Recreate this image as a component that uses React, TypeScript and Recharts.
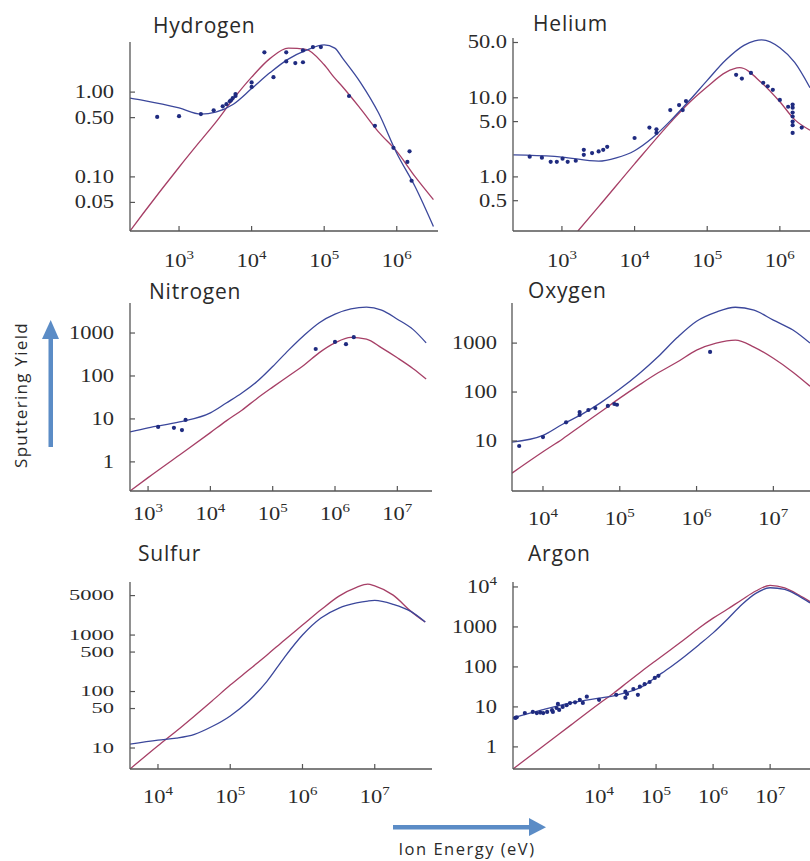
import React from 'react'
import { ComposedChart, Line, Scatter, XAxis, YAxis } from 'recharts'

// Hydrogen
const hCurveE = [211, 320, 1000, 2000, 3200, 5600, 1e4, 1.8e4, 3.2e4, 5.6e4, 1e5, 1.4e5, 1.8e5, 3.2e5, 5.6e5, 1e6, 1.8e6, 3.2e6]
const hBlue = [0.85, 0.8, 0.65, 0.55, 0.58, 0.72, 1.1, 1.7, 2.45, 3.1, 3.6, 3.3, 2.5, 1.28, 0.57, 0.19, 0.076, 0.026]
const hRed = [0.023, 0.037, 0.13, 0.27, 0.44, 0.83, 1.5, 2.5, 3.3, 3.2, 2.1, 1.46, 1.15, 0.63, 0.34, 0.2, 0.1, 0.054]
const hPtsE = [500, 1000, 2000, 3000, 4000, 4500, 5000, 5200, 5500, 6000, 6000, 1e4, 1e4, 15000, 20000, 30000, 30000, 40000, 51000, 51000, 70000, 90000, 220000, 500000, 900000, 1.4e6, 1.5e6, 1.6e6]
const hPtsY = [0.51, 0.52, 0.55, 0.61, 0.68, 0.72, 0.78, 0.8, 0.85, 0.9, 0.95, 1.3, 1.15, 2.95, 1.5, 2.95, 2.3, 2.2, 2.25, 3.1, 3.4, 3.4, 0.9, 0.4, 0.22, 0.15, 0.2, 0.09]
const hXTicks = [1e3, 1e4, 1e5, 1e6]
const hXLabels = ['10^3', '10^4', '10^5', '10^6']
const hYTicks = [0.05, 0.1, 0.5, 1]
const hYLabels = ['0.05', '0.10', '0.50', '1.00']

// Helium
const heBlueE = [214, 320, 1000, 3200, 5600, 1e4, 1.8e4, 3.2e4, 5.6e4, 1e5, 1.8e5, 3.2e5, 4.5e5, 5.6e5, 1e6, 1.6e6, 2.6e6]
const heBlue = [1.9, 1.88, 1.78, 1.58, 1.74, 2.14, 3.16, 5.25, 9.1, 16.6, 30, 46, 52.5, 54, 43, 28, 13.4]
const heRedE = [1660, 3200, 1e4, 3.2e4, 5.6e4, 1e5, 1.8e5, 2.8e5, 5.6e5, 1e6, 1.6e6, 2.6e6]
const heRed = [0.207, 0.42, 1.46, 5.0, 8.6, 13.8, 21, 24, 15.5, 8.9, 5.3, 3.9]
const hePtsE = [360, 530, 700, 850, 1020, 1200, 1550, 2000, 2000, 2600, 3200, 3700, 4200, 1e4, 16000, 20000, 20000, 31000, 41000, 46000, 51000, 250000, 300000, 400000, 590000, 680000, 800000, 1e6, 1.3e6, 1.5e6, 1.5e6, 1.5e6, 1.5e6, 1.5e6, 1.5e6, 1.5e6, 2e6]
const hePtsY = [1.8, 1.75, 1.55, 1.55, 1.7, 1.55, 1.6, 1.9, 2.2, 2.0, 2.1, 2.2, 2.4, 3.1, 4.2, 4.0, 3.6, 7.0, 8.1, 7.0, 9.1, 19.5, 17.5, 20.6, 15.5, 14, 12.6, 9.4, 7.7, 8.2, 7.5, 6.5, 5.8, 5.0, 4.5, 3.6, 4.2]
const heXTicks = [1e3, 1e4, 1e5, 1e6]
const heXLabels = ['10^3', '10^4', '10^5', '10^6']
const heYTicks = [0.5, 1, 5, 10, 50]
const heYLabels = ['0.5', '1.0', '5.0', '10.0', '50.0']

// Nitrogen
const nCurveE = [513, 1000, 3200, 1e4, 1.8e4, 3.2e4, 5.6e4, 1e5, 1.8e5, 3.2e5, 5.6e5, 1e6, 1.8e6, 3.2e6, 5.6e6, 1e7, 1.8e7, 2.9e7]
const nBlue = [5, 6.2, 8.5, 13.8, 23.5, 40, 74, 166, 400, 890, 1740, 2750, 3630, 4000, 3400, 2100, 1200, 590]
const nRed = [0.21, 0.43, 1.45, 4.8, 9, 16, 30, 55, 100, 180, 350, 590, 790, 720, 450, 265, 148, 85]
const nPtsE = [1450, 2600, 3500, 4000, 490000, 1e6, 1.5e6, 2e6]
const nPtsY = [6.5, 6.2, 5.5, 9.5, 425, 620, 550, 800]
const nXTicks = [1e3, 1e4, 1e5, 1e6, 1e7]
const nXLabels = ['10^3', '10^4', '10^5', '10^6', '10^7']
const nYTicks = [1, 10, 100, 1000]
const nYLabels = ['1', '10', '100', '1000']

// Oxygen
const oCurveE = [3950, 1e4, 1.8e4, 3.2e4, 5.6e4, 1e5, 1.8e5, 3.2e5, 5.6e5, 1e6, 1.8e6, 3.2e6, 5.6e6, 1e7, 1.8e7, 3e7]
const oBlue = [9.5, 13, 22, 35, 60, 115, 240, 540, 1300, 2800, 4300, 5400, 4700, 2950, 1850, 1000]
const oRed = [2.2, 6, 11, 21, 39, 75, 140, 250, 410, 720, 1000, 1150, 830, 490, 255, 132]
const oPtsE = [4900, 1e4, 20000, 30000, 30000, 39000, 48000, 70000, 85000, 92000, 1.5e6]
const oPtsY = [7.9, 12, 24, 39, 34, 43, 47, 52, 57, 55, 660]
const oXTicks = [1e4, 1e5, 1e6, 1e7]
const oXLabels = ['10^4', '10^5', '10^6', '10^7']
const oYTicks = [10, 100, 1000]
const oYLabels = ['10', '100', '1000']

// Sulfur
const sCurveE = [4100, 1e4, 1.8e4, 3.2e4, 5.6e4, 1e5, 1.8e5, 3.2e5, 5.6e5, 1e6, 1.8e6, 3.2e6, 5.6e6, 8e6, 1e7, 1.8e7, 3.2e7, 5e7]
const sBlue = [11.7, 13.8, 15, 17.5, 24, 37, 68, 150, 400, 1000, 2000, 3000, 3700, 4000, 4100, 3500, 2600, 1700]
const sRed = [4.25, 11, 20, 37, 68, 130, 240, 440, 810, 1500, 2800, 4900, 7000, 8000, 7400, 5100, 2600, 1700]
const sXTicks = [1e4, 1e5, 1e6, 1e7]
const sXLabels = ['10^4', '10^5', '10^6', '10^7']
const sYTicks = [10, 50, 100, 500, 1000, 5000]
const sYLabels = ['10', '50', '100', '500', '1000', '5000']

// Argon
const aCurveE = [310, 1000, 3200, 1e4, 1.8e4, 3.2e4, 5.6e4, 1e5, 1.8e5, 3.2e5, 5.6e5, 1e6, 1.8e6, 3.2e6, 5.6e6, 1e7, 1.8e7, 3.2e7, 5e7]
const aBlue = [5.3, 8.4, 12.6, 16.6, 19, 23.4, 31.6, 56, 100, 186, 355, 710, 1580, 3630, 6900, 9550, 8700, 5900, 4000]
const aRed = [0.28, 1.0, 3.5, 12, 22, 42, 78, 145, 270, 500, 930, 1660, 2800, 4800, 7900, 11000, 9500, 6300, 4300]
const aPtsE = [340, 360, 500, 690, 810, 930, 1050, 1230, 1500, 1550, 1800, 1900, 2000, 2300, 2700, 3100, 3800, 4600, 5200, 6100, 1e4, 20000, 29000, 29000, 31000, 40000, 48000, 52000, 63000, 77000, 95000, 110000]
const aPtsY = [5.3, 5.5, 7, 7.5, 7, 7.2, 7, 7.5, 8.3, 7.5, 9.4, 11.9, 8.4, 10, 11, 12.5, 13, 15, 12.6, 18, 15, 20, 24, 17, 21, 28, 20, 32, 37, 42, 53, 60]
const aXTicks = [1e4, 1e5, 1e6, 1e7]
const aXLabels = ['10^4', '10^5', '10^6', '10^7']
const aYTicks = [1, 10, 100, 1000, 1e4]
const aYLabels = ['1', '10', '100', '1000', '10^4']

const BLUE = '#3b479b'
const RED = '#a63f66'
const DOT = '#1f2b80'
const AXIS = '#555'
const TXT = '#2a2a2a'
const SERIF = '"Liberation Serif", "Times New Roman", serif'
const SANS = '"Open Sans", "Noto Sans", sans-serif'
const SX = 1.25

const zip = (e: number[], y: number[]) => e.map((v, i) => ({ e: v, y: y[i] }))

const Label10 = ({ label, anchor, size }: { label: string; anchor: 'middle' | 'end'; size: number }) => {
  const [base, exp] = label.split('^')
  return (
    <text x={0} y={0} textAnchor={anchor} fontFamily={SERIF} fontSize={size} fill={TXT}>
      {base}
      {exp && (
        <tspan dy={-8} fontSize={12}>
          {exp}
        </tspan>
      )}
    </text>
  )
}

type PanelProps = {
  left: number
  top: number
  right: number
  bottom: number
  xDomain: [number, number]
  yDomain: [number, number]
  xTicks: number[]
  xLabels: string[]
  yTicks: number[]
  yLabels: string[]
  blue: { e: number; y: number }[]
  red: { e: number; y: number }[]
  pts: { e: number; y: number }[]
  yGap: number
  xDy: number
  yFont?: number
}

const PAD_L = 70
const PAD_T = 10
const PAD_R = 6
const PAD_B = 50

const Panel = (p: PanelProps) => {
  const w = p.right - p.left + PAD_L + PAD_R
  const h = p.bottom - p.top + PAD_T + PAD_B
  const yFont = p.yFont ?? 18
  const ySx = SX * (18 / yFont)
  const xTick = (t: any) => {
    const i = p.xTicks.indexOf(t.payload.value)
    return (
      <g>
        <line x1={t.x} x2={t.x} y1={t.y} y2={t.y - 5} stroke={AXIS} strokeWidth={1.2} />
        <g transform={`translate(${t.x},${t.y + p.xDy}) scale(${SX},1)`}>
          <Label10 label={p.xLabels[i] ?? ''} anchor="middle" size={18} />
        </g>
      </g>
    )
  }
  const yTick = (t: any) => {
    const i = p.yTicks.indexOf(t.payload.value)
    return (
      <g>
        <line x1={t.x} x2={t.x + 5} y1={t.y} y2={t.y} stroke={AXIS} strokeWidth={1.2} />
        <g transform={`translate(${t.x - p.yGap},${t.y + yFont * 0.33}) scale(${ySx},1)`}>
          <Label10 label={p.yLabels[i] ?? ''} anchor="end" size={yFont} />
        </g>
      </g>
    )
  }
  return (
    <div style={{ position: 'absolute', left: p.left - PAD_L, top: p.top - PAD_T }}>
      <ComposedChart width={w} height={h} margin={{ top: PAD_T, right: PAD_R, bottom: 0, left: 0 }}>
        <XAxis
          dataKey="e"
          type="number"
          scale="log"
          domain={p.xDomain}
          allowDataOverflow
          ticks={p.xTicks}
          interval={0}
          height={PAD_B}
          tickLine={false}
          tickSize={0}
          tickMargin={0}
          axisLine={{ stroke: AXIS, strokeWidth: 1.3 }}
          tick={xTick}
        />
        <YAxis
          dataKey="y"
          type="number"
          scale="log"
          domain={p.yDomain}
          allowDataOverflow
          ticks={p.yTicks}
          interval={0}
          width={PAD_L}
          tickLine={false}
          tickSize={0}
          tickMargin={0}
          axisLine={{ stroke: AXIS, strokeWidth: 1.3 }}
          tick={yTick}
        />
        <Line data={p.red} dataKey="y" type="monotone" stroke={RED} strokeWidth={1.3} dot={false} activeDot={false} isAnimationActive={false} />
        <Line data={p.blue} dataKey="y" type="monotone" stroke={BLUE} strokeWidth={1.3} dot={false} activeDot={false} isAnimationActive={false} />
        <Scatter
          data={p.pts}
          dataKey="y"
          fill={DOT}
          isAnimationActive={false}
          shape={(s: any) => <circle cx={s.cx} cy={s.cy} r={2.1} fill={DOT} />}
        />
      </ComposedChart>
    </div>
  )
}

const titles = [
  { t: 'Hydrogen', x: 153, y: 33 },
  { t: 'Helium', x: 533, y: 31 },
  { t: 'Nitrogen', x: 149, y: 299 },
  { t: 'Oxygen', x: 528, y: 298 },
  { t: 'Sulfur', x: 138, y: 561 },
  { t: 'Argon', x: 528, y: 561 },
]

export default function App() {
  return (
    <div style={{ position: 'absolute', left: 0, top: 0, width: 810, height: 861, overflow: 'hidden', background: '#fff' }}>
      <Panel left={130} top={42} right={438} bottom={231} xDomain={[211, 3.7e6]} yDomain={[0.023, 3.9]}
        xTicks={hXTicks} xLabels={hXLabels} yTicks={hYTicks} yLabels={hYLabels}
        blue={zip(hCurveE, hBlue)} red={zip(hCurveE, hRed)} pts={zip(hPtsE, hPtsY)} yGap={16} xDy={36} />
      <Panel left={513} top={38} right={810} bottom={231} xDomain={[212, 2.6e6]} yDomain={[0.207, 57]}
        xTicks={heXTicks} xLabels={heXLabels} yTicks={heYTicks} yLabels={heYLabels}
        blue={zip(heBlueE, heBlue)} red={zip(heRedE, heRed)} pts={zip(hePtsE, hePtsY)} yGap={6} xDy={36} />
      <Panel left={130} top={303} right={432} bottom={491} xDomain={[513, 3.6e7]} yDomain={[0.21, 5000]}
        xTicks={nXTicks} xLabels={nXLabels} yTicks={nYTicks} yLabels={nYLabels}
        blue={zip(nCurveE, nBlue)} red={zip(nCurveE, nRed)} pts={zip(nPtsE, nPtsY)} yGap={16} xDy={29} />
      <Panel left={512} top={303} right={810} bottom={491} xDomain={[3950, 3e7]} yDomain={[0.95, 6600]}
        xTicks={oXTicks} xLabels={oXLabels} yTicks={oYTicks} yLabels={oYLabels}
        blue={zip(oCurveE, oBlue)} red={zip(oCurveE, oRed)} pts={zip(oPtsE, oPtsY)} yGap={15} xDy={34} />
      <Panel left={130} top={582} right={432} bottom={769} xDomain={[4100, 6.2e7]} yDomain={[4.25, 8700]}
        xTicks={sXTicks} xLabels={sXLabels} yTicks={sYTicks} yLabels={sYLabels}
        blue={zip(sCurveE, sBlue)} red={zip(sCurveE, sRed)} pts={[]} yGap={16} xDy={34} yFont={14.5} />
      <Panel left={513} top={582} right={810} bottom={769} xDomain={[310, 5e7]} yDomain={[0.28, 13300]}
        xTicks={aXTicks} xLabels={aXLabels} yTicks={aYTicks} yLabels={aYLabels}
        blue={zip(aCurveE, aBlue)} red={zip(aCurveE, aRed)} pts={zip(aPtsE, aPtsY)} yGap={16} xDy={34} />
      <svg width={810} height={861} style={{ position: 'absolute', left: 0, top: 0, pointerEvents: 'none' }}>
        {titles.map((t) => (
          <text key={t.t} x={t.x} y={t.y} fontFamily={SANS} fontSize={21} letterSpacing={0.8} fill={TXT}>
            {t.t}
          </text>
        ))}
        <rect x={48.5} y={336} width={4.5} height={111} fill="#5b8cc6" />
        <polygon points="42,339 59,339 50.7,320" fill="#5b8cc6" />
        <text x={27} y={395} transform="rotate(-90 27 395)" textAnchor="middle" fontFamily={SANS} fontSize={17} letterSpacing={1.3} fill={TXT}>
          Sputtering Yield
        </text>
        <rect x={393} y={825} width={138} height={4.5} fill="#5b8cc6" />
        <polygon points="529,818 529,836 546,827.2" fill="#5b8cc6" />
        <text x={467} y={855} textAnchor="middle" fontFamily={SANS} fontSize={16.5} letterSpacing={1.5} fill={TXT}>
          Ion Energy (eV)
        </text>
      </svg>
    </div>
  )
}
